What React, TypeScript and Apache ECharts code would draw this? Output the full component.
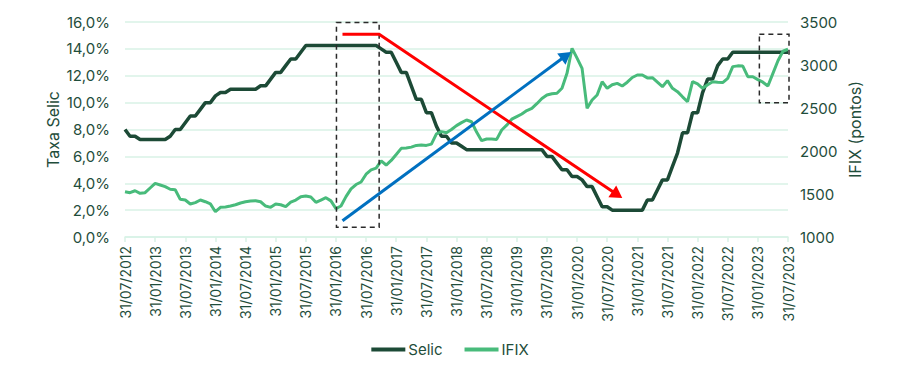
import React, { useEffect, useRef } from "react";
import * as echarts from "echarts";

// tick labels on the x axis (every 6 months, starting at month index 0 = Jul 2012)
const xTickLabels = [
  "31/07/2012", "31/01/2013", "31/07/2013", "31/01/2014", "31/07/2014", "31/01/2015",
  "31/07/2015", "31/01/2016", "31/07/2016", "31/01/2017", "31/07/2017", "31/01/2018",
  "31/07/2018", "31/01/2019", "31/07/2019", "31/01/2020", "31/07/2020", "31/01/2021",
  "31/07/2021", "31/01/2022", "31/07/2022", "31/01/2023", "31/07/2023",
];

// Selic (% a.a.), monthly from Jul 2012 to Jul 2023
const selic = [
  8.0, 7.5, 7.5, 7.25, 7.25, 7.25,
  7.25, 7.25, 7.25, 7.5, 8.0, 8.0, 8.5, 9.0, 9.0, 9.5, 10.0, 10.0,
  10.5, 10.75, 10.75, 11.0, 11.0, 11.0, 11.0, 11.0, 11.0, 11.25, 11.25, 11.75,
  12.25, 12.25, 12.75, 13.25, 13.25, 13.75, 14.25, 14.25, 14.25, 14.25, 14.25, 14.25,
  14.25, 14.25, 14.25, 14.25, 14.25, 14.25, 14.25, 14.25, 14.25, 14.0, 13.75, 13.75,
  13.0, 12.25, 12.25, 11.25, 10.25, 10.25, 9.25, 9.25, 8.25, 7.5, 7.5, 7.0,
  7.0, 6.75, 6.5, 6.5, 6.5, 6.5, 6.5, 6.5, 6.5, 6.5, 6.5, 6.5,
  6.5, 6.5, 6.5, 6.5, 6.5, 6.5, 6.0, 6.0, 5.5, 5.0, 5.0, 4.5,
  4.5, 4.25, 3.75, 3.75, 3.0, 2.25, 2.25, 2.0, 2.0, 2.0, 2.0, 2.0,
  2.0, 2.0, 2.75, 2.75, 3.5, 4.25, 4.25, 5.25, 6.25, 7.75, 7.75, 9.25,
  9.25, 10.75, 11.75, 11.75, 12.75, 13.25, 13.25, 13.75, 13.75, 13.75, 13.75, 13.75,
  13.75, 13.75, 13.75, 13.75, 13.75, 13.75, 13.75,
];

// IFIX (pontos), monthly from Jul 2012 to Jul 2023
const ifix = [
  1527, 1515, 1538, 1508, 1515, 1570,
  1624, 1605, 1585, 1555, 1550, 1438, 1430, 1384, 1400, 1430, 1410, 1385,
  1294, 1345, 1350, 1360, 1375, 1395, 1410, 1418, 1422, 1410, 1360, 1345,
  1384, 1375, 1353, 1405, 1430, 1469, 1477, 1465, 1403, 1430, 1457, 1420,
  1330, 1360, 1470, 1560, 1610, 1640, 1730, 1780, 1800, 1885, 1837, 1890,
  1960, 2031, 2035, 2045, 2065, 2070, 2065, 2080, 2200, 2225, 2213, 2250,
  2295, 2330, 2360, 2340, 2220, 2120, 2140, 2140, 2135, 2244, 2300, 2370,
  2400, 2430, 2470, 2496, 2550, 2610, 2651, 2665, 2671, 2729, 2903, 3194,
  3080, 2961, 2496, 2593, 2651, 2806, 2729, 2770, 2787, 2756, 2800, 2855,
  2884, 2884, 2850, 2852, 2800, 2748, 2818, 2729, 2690, 2630, 2573, 2806,
  2780, 2729, 2770, 2806, 2800, 2796, 2845, 2981, 2990, 2988, 2864, 2864,
  2830, 2800, 2756, 2903, 3050, 3160, 3183,
];

// annotations, in [month index, Selic %] coordinates
const boxes = [
  [[42.1, 15.97], [50.6, 0.72]],
  [[126.3, 15.08], [132.2, 9.99]],
];
const redArrow = [[43.3, 15.08], [50.6, 15.08], [99.0, 2.9]];
const blueArrow = [[43.3, 1.21], [88.8, 13.77]];

const TEXT = "#1f4d3b";
const GRID = "#d8f2e6";
const SELIC_COLOR = "#1c4a36";
const IFIX_COLOR = "#48bb7b";
const FONT = "Inter, 'Noto Sans', sans-serif";

export default function App() {
  const ref = useRef<HTMLDivElement>(null);

  useEffect(() => {
    if (!ref.current) return;
    const chart = echarts.init(ref.current, undefined, { renderer: "svg" });
    const selicData = selic.map((v, i) => [i, v]);
    const ifixData = ifix.map((v, i) => [i, v]);

    chart.setOption({
      animation: false,
      textStyle: { fontFamily: FONT },
      grid: { left: 125, right: 112, top: 22, bottom: 133, outerBoundsMode: "none" },
      legend: {
        bottom: 8,
        left: "center",
        itemWidth: 34,
        itemHeight: 4,
        itemGap: 22,
        icon: "rect",
        textStyle: { color: TEXT, fontSize: 15, fontFamily: FONT, padding: [0, 0, 0, -2] },
        data: ["Selic", "IFIX"],
      },
      xAxis: {
        type: "value",
        min: 0,
        max: selic.length - 1,
        interval: 6,
        axisLine: { show: true, lineStyle: { color: GRID, width: 1.5 } },
        axisTick: { show: true, length: 5, lineStyle: { color: GRID, width: 1.5 } },
        splitLine: { show: false },
        axisLabel: {
          rotate: 90,
          margin: 9,
          color: TEXT,
          fontSize: 14,
          fontFamily: FONT,
          formatter: (v: number) => xTickLabels[Math.round(v / 6)] ?? "",
        },
      },
      yAxis: [
        {
          type: "value",
          min: 0,
          max: 16,
          interval: 2,
          name: "Taxa Selic",
          nameLocation: "middle",
          nameRotate: 90,
          nameGap: 64,
          nameMoveOverlap: false,
          nameTextStyle: { color: TEXT, fontSize: 16, fontFamily: FONT },
          axisLine: { show: false },
          axisTick: { show: false },
          splitLine: { show: true, lineStyle: { color: GRID, width: 1.5 } },
          axisLabel: {
            margin: 15,
            color: TEXT,
            fontSize: 15,
            fontFamily: FONT,
            formatter: (v: number) => v.toFixed(1).replace(".", ",") + "%",
          },
        },
        {
          type: "value",
          min: 1000,
          max: 3500,
          interval: 500,
          position: "right",
          name: "IFIX (pontos)",
          nameLocation: "middle",
          nameRotate: 90,
          nameGap: 59,
          nameMoveOverlap: false,
          nameTextStyle: { color: TEXT, fontSize: 16, fontFamily: FONT },
          axisLine: { show: false },
          axisTick: { show: false },
          splitLine: { show: false },
          axisLabel: {
            margin: 12,
            color: TEXT,
            fontSize: 15,
            fontFamily: FONT,
            formatter: (v: number) => String(v),
          },
        },
      ],
      series: [
        {
          name: "Selic",
          type: "line",
          yAxisIndex: 0,
          data: selicData,
          showSymbol: false,
          symbol: "none",
          lineStyle: { color: SELIC_COLOR, width: 3.5 },
          itemStyle: { color: SELIC_COLOR },
          z: 3,
        },
        {
          name: "IFIX",
          type: "line",
          yAxisIndex: 1,
          data: ifixData,
          showSymbol: false,
          symbol: "none",
          lineStyle: { color: IFIX_COLOR, width: 3 },
          itemStyle: { color: IFIX_COLOR },
          z: 3,
        },
      ],
    });

    const px = (p: number[]) =>
      chart.convertToPixel({ xAxisIndex: 0, yAxisIndex: 0 }, p) as number[];

    const arrowHead = (from: number[], to: number[], len: number, half: number) => {
      const dx = to[0] - from[0];
      const dy = to[1] - from[1];
      const d = Math.hypot(dx, dy);
      const ux = dx / d, uy = dy / d;
      const bx = to[0] - ux * len, by = to[1] - uy * len;
      return [
        [to[0], to[1]],
        [bx - uy * half, by + ux * half],
        [bx + uy * half, by - ux * half],
      ];
    };
    const shorten = (from: number[], to: number[], by: number) => {
      const dx = to[0] - from[0];
      const dy = to[1] - from[1];
      const d = Math.hypot(dx, dy);
      return [to[0] - (dx / d) * by, to[1] - (dy / d) * by];
    };

    const graphics: any[] = [];
    boxes.forEach(([a, b]) => {
      const p1 = px(a);
      const p2 = px(b);
      graphics.push({
        type: "rect",
        shape: { x: p1[0], y: p1[1], width: p2[0] - p1[0], height: p2[1] - p1[1] },
        style: { fill: "none", stroke: "#2a2a2a", lineWidth: 1.5, lineDash: [5, 4] },
        z: 10,
      });
    });

    const red = redArrow.map(px);
    const redEnd = shorten(red[1], red[2], 9);
    graphics.push({
      type: "polyline",
      shape: { points: [red[0], red[1], redEnd] },
      style: { stroke: "#ff0000", lineWidth: 3, fill: "none" },
      z: 11,
    });
    graphics.push({
      type: "polygon",
      shape: { points: arrowHead(red[1], red[2], 12, 7) },
      style: { fill: "#ff0000" },
      z: 11,
    });

    const blue = blueArrow.map(px);
    const blueEnd = shorten(blue[0], blue[1], 9);
    graphics.push({
      type: "polyline",
      shape: { points: [blue[0], blueEnd] },
      style: { stroke: "#0070c0", lineWidth: 3, fill: "none" },
      z: 11,
    });
    graphics.push({
      type: "polygon",
      shape: { points: arrowHead(blue[0], blue[1], 12, 7) },
      style: { fill: "#0070c0" },
      z: 11,
    });

    chart.setOption({ graphic: graphics });

    return () => chart.dispose();
  }, []);

  return (
    <div
      ref={ref}
      style={{ position: "fixed", left: 0, top: 0, width: 900, height: 370, background: "#fff" }}
    />
  );
}
